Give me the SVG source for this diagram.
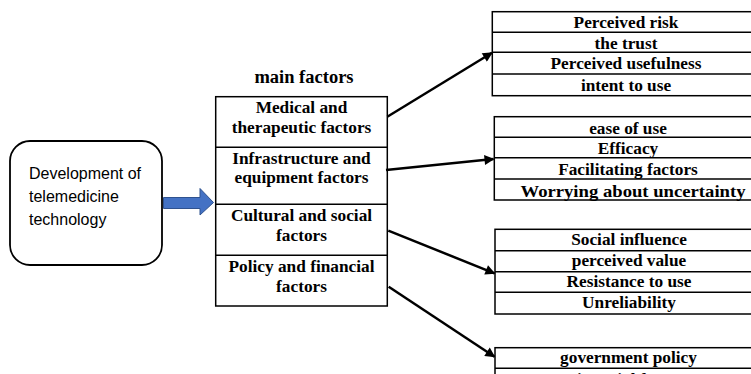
<svg xmlns="http://www.w3.org/2000/svg" width="751" height="374" viewBox="0 0 751 374">
<style>
.b{font-family:"Liberation Serif","Times New Roman",serif;font-weight:bold;font-size:17.3px;fill:#000;text-anchor:middle}
.s{font-family:"Liberation Sans",Arial,sans-serif;font-size:16px;fill:#000}
.box{fill:#fff;stroke:#000;stroke-width:1.5}
.ln{stroke:#000;stroke-width:1.5}
.con{stroke:#000;stroke-width:2.5;fill:none;marker-end:url(#ah)}
</style>
<defs>
<marker id="ah" viewBox="0 0 10 10" refX="9" refY="5" markerWidth="4.4" markerHeight="4" markerUnits="strokeWidth" orient="auto">
<path d="M0,0 L10,5 L0,10 z" fill="#000"/>
</marker>
</defs>
<rect width="751" height="374" fill="#fff"/>

<g id="source">
<rect x="10" y="141" width="152" height="124" rx="20" ry="20" fill="#fff" stroke="#000" stroke-width="1.8"/>
<text class="s" x="29" y="179">Development of</text>
<text class="s" x="29" y="202">telemedicine</text>
<text class="s" x="29" y="225">technology</text>
</g>

<g id="blue-arrow">
<path d="M163.5,197.5 H200 V188.5 L213.5,202.5 L200,215 V208.5 H163.5 Z" fill="#4472C4" stroke="#2F528F" stroke-width="1"/>
</g>

<g id="main-factors">
<text class="b" x="304" y="83" style="font-size:18.5px">main factors</text>
<rect class="box" x="215.7" y="96.7" width="171.6" height="209.3"/>
<line class="ln" x1="215.7" y1="147.3" x2="387.3" y2="147.3"/>
<line class="ln" x1="215.7" y1="204.3" x2="387.3" y2="204.3"/>
<line class="ln" x1="215.7" y1="255.3" x2="387.3" y2="255.3"/>
<text class="b" x="301.5" y="113.3">Medical and</text>
<text class="b" x="301.5" y="133.3">therapeutic factors</text>
<text class="b" x="301.5" y="164">Infrastructure and</text>
<text class="b" x="301.5" y="183.3">equipment factors</text>
<text class="b" x="301.5" y="221">Cultural and social</text>
<text class="b" x="301.5" y="241">factors</text>
<text class="b" x="301.5" y="271.7">Policy and financial</text>
<text class="b" x="301.5" y="291.7">factors</text>
</g>

<g id="group-medical">
<rect class="box" x="492.3" y="11.7" width="270" height="84"/>
<line class="ln" x1="492.3" y1="32.3" x2="762" y2="32.3"/>
<line class="ln" x1="492.3" y1="52.3" x2="762" y2="52.3"/>
<line class="ln" x1="492.3" y1="74" x2="762" y2="74"/>
<text class="b" x="626" y="27.7">Perceived risk</text>
<text class="b" x="626" y="49">the trust</text>
<text class="b" x="626" y="69.3">Perceived usefulness</text>
<text class="b" x="626" y="90.7">intent to use</text>
</g>

<g id="group-infrastructure">
<rect class="box" x="494.3" y="116.7" width="270" height="83.3"/>
<line class="ln" x1="494.3" y1="137.3" x2="764" y2="137.3"/>
<line class="ln" x1="494.3" y1="157.7" x2="764" y2="157.7"/>
<line class="ln" x1="494.3" y1="179" x2="764" y2="179"/>
<text class="b" x="628" y="134">ease of use</text>
<text class="b" x="628" y="154.3">Efficacy</text>
<text class="b" x="628" y="175">Facilitating factors</text>
<text class="b" x="633" y="196.7" textLength="225" lengthAdjust="spacingAndGlyphs">Worrying about uncertainty</text>
</g>

<g id="group-cultural">
<rect class="box" x="495" y="229.3" width="270" height="84.7"/>
<line class="ln" x1="495" y1="250.7" x2="765" y2="250.7"/>
<line class="ln" x1="495" y1="271.7" x2="765" y2="271.7"/>
<line class="ln" x1="495" y1="292.3" x2="765" y2="292.3"/>
<text class="b" x="629" y="245">Social influence</text>
<text class="b" x="629" y="266">perceived value</text>
<text class="b" x="629" y="286.7">Resistance to use</text>
<text class="b" x="629" y="308.3">Unreliability</text>
</g>

<g id="group-policy">
<rect class="box" x="495" y="347.7" width="270" height="60"/>
<line class="ln" x1="495" y1="368.3" x2="765" y2="368.3"/>
<text class="b" x="628.5" y="363.3">government policy</text>
<text class="b" x="628.5" y="385">Financial factors</text>
</g>

<g id="connectors">
<line class="con" x1="387.3" y1="116.7" x2="492" y2="52.7"/>
<line class="con" x1="386" y1="170" x2="493.5" y2="159"/>
<line class="con" x1="388.3" y1="230.7" x2="494.5" y2="273.3"/>
<line class="con" x1="388.7" y1="286.7" x2="494.5" y2="356.7"/>
</g>
</svg>
